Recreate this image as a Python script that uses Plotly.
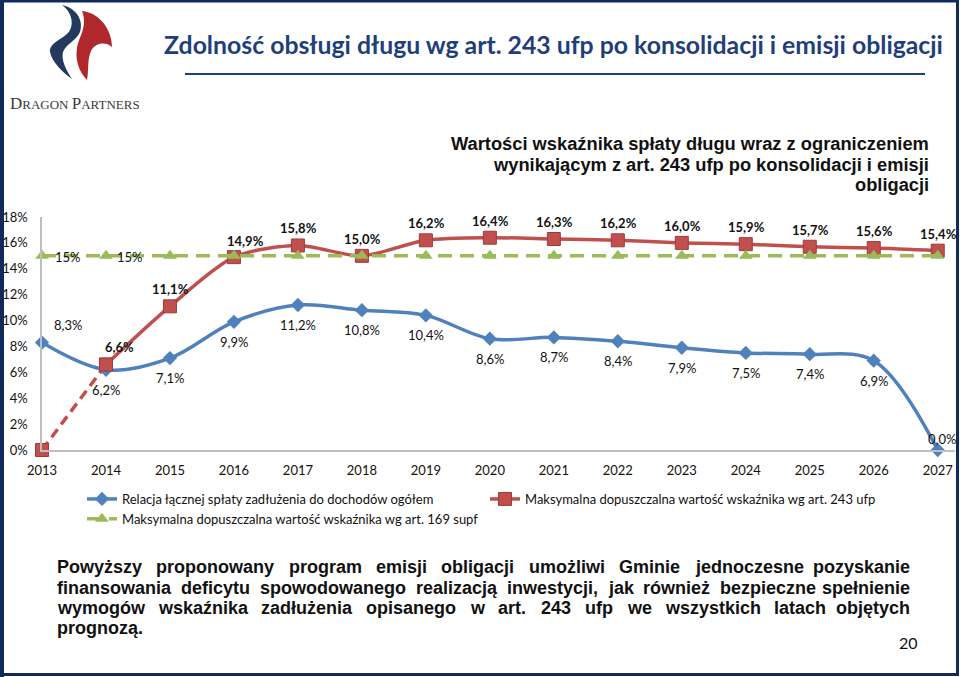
import plotly.graph_objects as go

years = list(range(2013, 2028))
relacja = [8.3, 6.2, 7.1, 9.9, 11.2, 10.8, 10.4, 8.6, 8.7, 8.4, 7.9, 7.5, 7.4, 6.9, 0.0]
max243 = [0.0, 6.6, 11.1, 14.9, 15.8, 15.0, 16.2, 16.4, 16.3, 16.2, 16.0, 15.9, 15.7, 15.6, 15.4]
max169 = [15] * 15
ytick_vals = [0, 2, 4, 6, 8, 10, 12, 14, 16, 18]
ytick_text = ["0%", "2%", "4%", "6%", "8%", "10%", "12%", "14%", "16%", "18%"]

BLUE = "#4F81BD"
RED = "#C0504D"
GREEN = "#9BBB59"

W, H = 960, 677
ML, MR, MT, MB = 42, 5, 217, 227
PW = W - ML - MR
PH = H - MT - MB


def px(x):
    return (x - ML) / PW


def py(y):
    return (H - MB - y) / PH


def fmt(v):
    return f"{v:.1f}".replace(".", ",") + "%"


fig = go.Figure()

fig.add_trace(go.Scatter(
    x=years[:2], y=max243[:2], mode="lines+markers",
    line=dict(color=RED, width=3.5, dash="10px,6px"),
    marker=dict(symbol="square", size=13, color=RED, line=dict(color="#A33A37", width=1)),
    showlegend=False, cliponaxis=False, hoverinfo="skip"))

fig.add_trace(go.Scatter(
    x=years, y=relacja, mode="lines+markers", name="Relacja łącznej spłaty zadłużenia do dochodów ogółem",
    line=dict(color=BLUE, width=3.5, shape="spline", smoothing=1.0),
    marker=dict(symbol="diamond", size=11, color=BLUE),
    cliponaxis=False))

fig.add_trace(go.Scatter(
    x=years[1:], y=max243[1:], mode="lines+markers", name="Maksymalna dopuszczalna wartość wskaźnika wg art. 243 ufp",
    line=dict(color=RED, width=3.5, shape="spline", smoothing=0.8),
    marker=dict(symbol="square", size=13, color=RED, line=dict(color="#A33A37", width=1)),
    cliponaxis=False))

fig.add_trace(go.Scatter(
    x=years, y=max169, mode="lines+markers", name="Maksymalna dopuszczalna wartość wskaźnika wg art. 169 supf",
    line=dict(color=GREEN, width=3.5, dash="14px,8px"),
    marker=dict(symbol="triangle-up", size=12, color=GREEN),
    cliponaxis=False))

ann = []
LBL = dict(family="Lato, sans-serif", size=13, color="#111")
for i, (yr, v) in enumerate(zip(years, relacja)):
    xs, ys = 0, -20
    if i == 0:
        xs, ys = 26, 18
    if i == len(years) - 1:
        xs, ys = 4, 11
    ann.append(dict(x=yr, y=v, xref="x", yref="y", text=fmt(v), showarrow=False,
                    xshift=xs, yshift=ys, font=LBL))
for i, (yr, v) in enumerate(zip(years, max243)):
    if i == 0:
        continue
    xs, ys = 1, 17
    if i == 1:
        xs, ys = 14, 18
    if i == 3:
        xs, ys = 12, 16
    ann.append(dict(x=yr, y=v, xref="x", yref="y", text="<b>" + fmt(v) + "</b>", showarrow=False,
                    xshift=xs, yshift=ys, font=LBL))
for i in range(2):
    ann.append(dict(x=years[i], y=max169[i], xref="x", yref="y", text=f"{max169[i]}%", showarrow=False,
                    xshift=26 - 2 * i, yshift=-1, font=LBL))

# title
ann.append(dict(x=px(553), y=py(44), xref="paper", yref="paper", showarrow=False,
                text="<b>Zdolność obsługi długu wg art. 243 ufp po konsolidacji i emisji obligacji</b>",
                font=dict(family="Lato, sans-serif", size=24.8, color="#1F3F7A"), xanchor="center", yanchor="middle"))
# subtitle (one annotation per line)
sub_lines = ["Wartości wskaźnika spłaty długu wraz z ograniczeniem",
             "wynikającym z art. 243 ufp po konsolidacji i emisji",
             "obligacji"]
for k, s in enumerate(sub_lines):
    ann.append(dict(x=px(931), y=py(143 + 21 * k), xref="paper", yref="paper", showarrow=False,
                    text="<b>" + s + "</b>",
                    font=dict(family="Liberation Sans, Arial, sans-serif", size=18.3, color="#111"),
                    xanchor="right", yanchor="middle"))
# logo text
ann.append(dict(x=px(8), y=py(103), xref="paper", yref="paper", showarrow=False,
                text="<span style='font-size:17px'>D</span>RAGON <span style='font-size:17px'>P</span>ARTNERS",
                font=dict(family="Liberation Serif, serif", size=13, color="#3a3a3a"),
                xanchor="left", yanchor="middle"))
# page number
ann.append(dict(x=px(908), y=py(642), xref="paper", yref="paper", showarrow=False, text="20",
                font=dict(family="Lato, sans-serif", size=16, color="#111"), xanchor="center", yanchor="middle"))

# justified paragraph
CW = {' ': 278, ',': 278, '.': 278, 'P': 667, 'G': 778,
      'a': 556, 'b': 611, 'c': 556, 'd': 611, 'e': 556, 'f': 333, 'g': 611, 'h': 611, 'i': 278, 'j': 278,
      'k': 556, 'l': 278, 'm': 889, 'n': 611, 'o': 611, 'p': 611, 'q': 611, 'r': 389, 's': 556, 't': 333,
      'u': 611, 'v': 556, 'w': 778, 'x': 556, 'y': 556, 'z': 500,
      'ą': 556, 'ć': 556, 'ę': 556, 'ł': 278, 'ń': 611, 'ó': 611, 'ś': 556, 'ź': 500, 'ż': 500}
FS = 18
lines = [
    "Powyższy proponowany program emisji obligacji umożliwi Gminie jednoczesne pozyskanie",
    "finansowania deficytu spowodowanego realizacją inwestycji, jak również bezpieczne spełnienie",
    "wymogów wskaźnika zadłużenia opisanego w art. 243 ufp we wszystkich latach objętych",
]
PFONT = dict(family="Liberation Sans, Arial, sans-serif", size=FS, color="#111")
LX0, LX1 = 55, 912
for li, line in enumerate(lines):
    words = line.split(" ")
    widths = [sum(CW.get(c, 556) for c in w) * FS / 1000 for w in words]
    gap = (LX1 - LX0 - sum(widths)) / (len(words) - 1)
    xcur = LX0
    yline = 567 + 20.5 * li
    for wi, (w, wd) in enumerate(zip(words, widths)):
        last = wi == len(words) - 1
        ann.append(dict(x=px(LX1 if last else xcur), y=py(yline), xref="paper", yref="paper", showarrow=False,
                        text="<b>" + w + "</b>", font=PFONT,
                        xanchor="right" if last else "left", yanchor="middle"))
        xcur += wd + gap
ann.append(dict(x=px(LX0), y=py(628), xref="paper", yref="paper", showarrow=False, text="<b>prognozą.</b>",
                font=PFONT, xanchor="left", yanchor="middle"))

shapes = []
shapes.append(dict(type="line", xref="paper", yref="paper", x0=px(185), x1=px(925), y0=py(74), y1=py(74),
                   line=dict(color="#1F3F7A", width=2)))
shapes.append(dict(type="rect", xref="paper", yref="paper", x0=px(1.5), x1=px(957.5), y0=py(674.5), y1=py(1),
                   line=dict(color="#102A5C", width=3), layer="above"))
shapes.append(dict(type="line", xref="paper", yref="paper", x0=px(2), x1=px(2), y0=py(677), y1=py(0),
                   line=dict(color="#102A5C", width=4)))


def path(pts):
    out = []
    for p in pts:
        if isinstance(p, str):
            out.append(p)
        else:
            out.append(f"{px(p[0]):.5f},{py(p[1]):.5f}")
    return " ".join(out)


navy_logo = path(["M", (62, 5), "C", (76, 8), (84, 20), (80, 32), "C", (77, 40), (66, 44), (63, 52),
                  "C", (61, 60), (66, 70), (72, 79), "C", (62, 72), (52, 62), (50, 52),
                  "C", (49, 44), (60, 40), (67, 34), "C", (74, 28), (74, 14), (62, 5), "Z"])
red_logo = path(["M", (82, 11), "C", (100, 13), (112, 30), (112, 47), "C", (105, 41), (95, 43), (91, 51),
                 "C", (87, 60), (89, 70), (87, 80), "C", (79, 72), (75, 60), (77, 48),
                 "C", (79, 36), (88, 27), (82, 11), "Z"])
shapes.append(dict(type="path", xref="paper", yref="paper", path=navy_logo,
                   fillcolor="#233A5E", line=dict(width=0)))
shapes.append(dict(type="path", xref="paper", yref="paper", path=red_logo,
                   fillcolor="#B0282C", line=dict(width=0)))

fig.update_layout(
    width=W, height=H,
    margin=dict(l=ML, r=MR, t=MT, b=MB, autoexpand=False),
    paper_bgcolor="white", plot_bgcolor="white",
    annotations=ann, shapes=shapes,
    showlegend=True,
    legend=dict(orientation="h", x=px(82), y=py(484), xanchor="left", yanchor="top",
                entrywidth=358, entrywidthmode="pixels", bgcolor="rgba(0,0,0,0)",
                font=dict(family="Lato, sans-serif", size=13, color="#111"), itemwidth=30),
    xaxis=dict(range=[2013, 2027.27], tickvals=years, ticktext=[str(y) for y in years],
               showgrid=False, zeroline=False, showline=True, linecolor="#BFBFBF", linewidth=1.5,
               ticks="", tickfont=dict(family="Lato, sans-serif", size=13, color="#111"),
               ticklabelstandoff=8, fixedrange=True),
    yaxis=dict(range=[0, 18], tickvals=ytick_vals, ticktext=ytick_text,
               showgrid=False, zeroline=False, showline=True, linecolor="#BFBFBF", linewidth=1.5,
               ticks="", tickfont=dict(family="Lato, sans-serif", size=13, color="#111"),
               ticklabelstandoff=10, fixedrange=True),
)

fig.write_html("out.html", config={"displayModeBar": False},
               post_script="document.body.style.margin='0';document.body.style.overflow='hidden';")
